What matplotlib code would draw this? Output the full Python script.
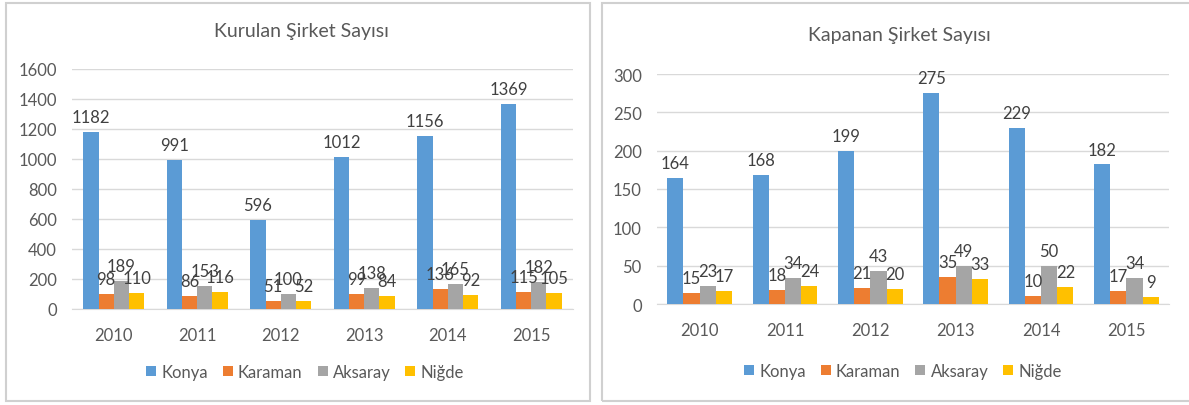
import numpy as np
import matplotlib.pyplot as plt
from matplotlib.patches import Rectangle

plt.rcParams['font.family'] = ['Lato', 'DejaVu Sans']

years = ['2010', '2011', '2012', '2013', '2014', '2015']
cities = ['Konya', 'Karaman', 'Aksaray', 'Niğde']
colors = ['#5B9BD5', '#ED7D31', '#A5A5A5', '#FFC000']

# Kurulan Şirket Sayısı
kurulan_konya = [1182, 991, 596, 1012, 1156, 1369]
kurulan_karaman = [98, 86, 51, 99, 136, 115]
kurulan_aksaray = [189, 153, 100, 138, 165, 182]
kurulan_nigde = [110, 116, 52, 84, 92, 105]

# Kapanan Şirket Sayısı
kapanan_konya = [164, 168, 199, 275, 229, 182]
kapanan_karaman = [15, 18, 21, 35, 10, 17]
kapanan_aksaray = [23, 34, 43, 49, 50, 34]
kapanan_nigde = [17, 24, 20, 33, 22, 9]

fig = plt.figure(figsize=(11.89, 4.06), dpi=100)

# panel çerçeveleri
for x0, w in [(6, 584), (602, 590)]:
    fig.patches.append(Rectangle((x0 / 1189, 4 / 406), w / 1189, 398 / 406,
                                 transform=fig.transFigure, fill=False,
                                 edgecolor='#D0D0D0', linewidth=1.5))


def draw_panel(rect, series, bw, ymax, ystep, title, title_xy, leg_xy):
    ax = fig.add_axes(rect)
    x = np.arange(len(years))
    for i, (vals, c) in enumerate(zip(series, colors)):
        pos = x + (i - 1.5) * bw
        ax.bar(pos, vals, width=bw, color=c, label=cities[i], zorder=3)
        for p, v in zip(pos, vals):
            ax.annotate(str(v), (p, v), xytext=(0, 5), textcoords='offset points',
                        ha='center', va='bottom', fontsize=12, color='#404040', zorder=4)
    ax.set_xlim(-0.5, len(years) - 0.5)
    ax.set_ylim(0, ymax)
    ax.set_yticks(np.arange(0, ymax + 1, ystep))
    ax.set_xticks(x)
    ax.set_xticklabels(years)
    ax.tick_params(axis='both', length=0, labelsize=12, labelcolor='#595959')
    ax.tick_params(axis='y', pad=11)
    ax.tick_params(axis='x', pad=13)
    ax.grid(axis='y', color='#D9D9D9', linewidth=1, zorder=0)
    for s in ['top', 'right', 'left']:
        ax.spines[s].set_visible(False)
    ax.spines['bottom'].set_color('#D9D9D9')
    ax.set_facecolor('none')
    fig.text(title_xy[0] / 1189, 1 - title_xy[1] / 406, title, ha='center', va='center',
             fontsize=14, color='#595959')
    ax.legend(loc='center', bbox_to_anchor=(leg_xy[0] / 1189, 1 - leg_xy[1] / 406),
              bbox_transform=fig.transFigure, ncol=4, frameon=False, fontsize=12,
              handlelength=0.6, handleheight=0.6, handletextpad=0.3, columnspacing=0.9,
              labelcolor='#595959')
    return ax


draw_panel([72 / 1189, 1 - 310 / 406, 501 / 1189, 240 / 406],
           [kurulan_konya, kurulan_karaman, kurulan_aksaray, kurulan_nigde],
           0.182, 1600, 200, 'Kurulan Şirket Sayısı', (301, 31), (305, 373))

draw_panel([657 / 1189, 1 - 305 / 406, 512 / 1189, 230 / 406],
           [kapanan_konya, kapanan_karaman, kapanan_aksaray, kapanan_nigde],
           0.19, 300, 50, 'Kapanan Şirket Sayısı', (899, 36), (903, 372))

fig.savefig('out.png', dpi=100)
